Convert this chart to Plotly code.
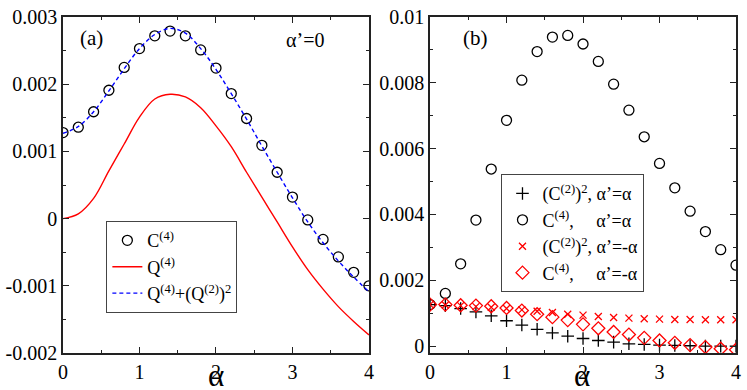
import plotly.graph_objects as go
from plotly.subplots import make_subplots

# ─── Data ─────────────────────────────────────────────────────────────────────
alpha = [0.0, 0.2, 0.4, 0.6, 0.8, 1.0, 1.2, 1.4, 1.6, 1.8, 2.0,
         2.2, 2.4, 2.6, 2.8, 3.0, 3.2, 3.4, 3.6, 3.8, 4.0]

# panel (a), alpha' = 0
c4_a = [0.00128, 0.00136, 0.00159, 0.00191, 0.00225, 0.00253, 0.00272,
        0.00279, 0.00272, 0.00251, 0.00224, 0.00186, 0.00149, 0.00109,
        0.00069, 0.00032, -0.00002, -0.00031, -0.00057, -0.00080, -0.00100]
q4_a = [0.0, 0.00007, 0.00030, 0.00071, 0.00111, 0.00151, 0.00178,
        0.00185, 0.00181, 0.00165, 0.00138, 0.00107, 0.00069, 0.00032,
        -0.00005, -0.00042, -0.00076, -0.00105, -0.00131, -0.00153, -0.00173]
q4q2_a = [0.00127, 0.00137, 0.00159, 0.00190, 0.00223, 0.00253, 0.00274,
          0.00283, 0.00276, 0.00253, 0.00222, 0.00186, 0.00148, 0.00108,
          0.00069, 0.00031, -0.00005, -0.00036, -0.00063, -0.00087, -0.00109]

# panel (b)
c2sq_p = [0.00126, 0.00123, 0.00114, 0.00104, 0.00092, 0.00077, 0.00064,
          0.00051, 0.00040, 0.00030, 0.00023, 0.00017, 0.00012, 0.00007,
          0.00005, 0.00003, 0.00002, 0.00001, 0.0, 0.0, 0.0]
c4_p = [0.00126, 0.00160, 0.00250, 0.00383, 0.00538, 0.00686, 0.00808,
        0.00895, 0.00939, 0.00944, 0.00918, 0.00865, 0.00796, 0.00717,
        0.00636, 0.00555, 0.00481, 0.00410, 0.00348, 0.00293, 0.00246]
c2sq_m = [0.00126, 0.00125, 0.00123, 0.00120, 0.00118, 0.00114, 0.00110,
          0.00106, 0.00102, 0.00097, 0.00094, 0.00090, 0.00087, 0.00085,
          0.00083, 0.00082, 0.00081, 0.00081, 0.00080, 0.00080, 0.00080]
c4_m = [0.00126, 0.00126, 0.00124, 0.00123, 0.00121, 0.00116, 0.00108,
        0.00097, 0.00088, 0.00079, 0.00066, 0.00054, 0.00043, 0.00035,
        0.00025, 0.00017, 0.00010, 0.00003, -0.00003, -0.00008, -0.00011]

ya_ticks = [-0.002, -0.001, 0, 0.001, 0.002, 0.003]
ya_text = ["-0.002", "-0.001", "0", "0.001", "0.002", "0.003"]
yb_ticks = [0, 0.002, 0.004, 0.006, 0.008, 0.01]
yb_text = ["0", "0.002", "0.004", "0.006", "0.008", "0.01"]

FONT = "Liberation Serif"
AX = "#222222"
NB = "\u00a0"

fig = make_subplots(rows=1, cols=2, horizontal_spacing=62 / 683)

# ─── Panel (a) ────────────────────────────────────────────────────────────────
fig.add_trace(go.Scatter(
    x=alpha, y=c4_a, mode="markers", name="C<sup>(4)</sup>",
    marker=dict(symbol="circle-open", size=10, color="black",
                line=dict(color="black", width=1.3)),
    legend="legend"), row=1, col=1)
fig.add_trace(go.Scatter(
    x=alpha, y=q4_a, mode="lines", name="Q<sup>(4)</sup>",
    line=dict(color="#ff0000", width=1.4, shape="spline"),
    legend="legend"), row=1, col=1)
fig.add_trace(go.Scatter(
    x=alpha, y=q4q2_a, mode="lines", name="Q<sup>(4)</sup>+(Q<sup>(2)</sup>)<sup>2</sup>",
    line=dict(color="#0000ff", width=1.4, dash="4px,3px", shape="spline"),
    legend="legend"), row=1, col=1)

# ─── Panel (b) ────────────────────────────────────────────────────────────────
fig.add_trace(go.Scatter(
    x=alpha, y=c2sq_p, mode="markers",
    name="(C<sup>(2)</sup>)<sup>2</sup>, α’=α",
    marker=dict(symbol="cross-thin", size=9, color="black",
                line=dict(color="black", width=1.3)),
    legend="legend2"), row=1, col=2)
fig.add_trace(go.Scatter(
    x=alpha, y=c4_p, mode="markers",
    name="C<sup>(4)</sup>," + NB * 5 + "α’=α",
    marker=dict(symbol="circle-open", size=10, color="black",
                line=dict(color="black", width=1.3)),
    legend="legend2"), row=1, col=2)
fig.add_trace(go.Scatter(
    x=alpha, y=c2sq_m, mode="markers",
    name="(C<sup>(2)</sup>)<sup>2</sup>, α’=-α",
    marker=dict(symbol="x-thin", size=7, color="#ff0000",
                line=dict(color="#ff0000", width=1.3)),
    legend="legend2"), row=1, col=2)
fig.add_trace(go.Scatter(
    x=alpha, y=c4_m, mode="markers",
    name="C<sup>(4)</sup>," + NB * 5 + "α’=-α",
    marker=dict(symbol="diamond-open", size=10, color="#ff0000",
                line=dict(color="#ff0000", width=1.3)),
    legend="legend2"), row=1, col=2)

# ─── Axes ─────────────────────────────────────────────────────────────────────
axis_common = dict(
    showline=True, linecolor=AX, linewidth=1.5, mirror="ticks",
    ticks="inside", ticklen=6, tickwidth=1, tickcolor=AX,
    showgrid=False, zeroline=False, ticklabeloverflow="allow",
    tickfont=dict(family=FONT, size=20, color="black"),
)
for col in (1, 2):
    fig.update_xaxes(
        range=[0, 4], tickvals=[0, 1, 2, 3, 4], ticktext=["0", "1", "2", "3", "4"],
        minor=dict(ticks="inside", ticklen=3, dtick=0.5, tickcolor=AX, showgrid=False),
        row=1, col=col, **axis_common)

fig.update_yaxes(
    range=[-0.002, 0.0030001], tickvals=ya_ticks, ticktext=ya_text,
    minor=dict(ticks="inside", ticklen=3, dtick=0.0005, tick0=0, tickcolor=AX, showgrid=False),
    row=1, col=1, **axis_common)
fig.update_yaxes(
    range=[-0.00021, 0.0100002], tickvals=yb_ticks, ticktext=yb_text,
    minor=dict(ticks="inside", ticklen=3, dtick=0.001, tick0=0, tickcolor=AX, showgrid=False),
    row=1, col=2, **axis_common)

# ─── Labels ───────────────────────────────────────────────────────────────────
def label(text, x, y, size, xref="paper"):
    fig.add_annotation(text=text, x=x, y=y, xref=xref, yref="paper",
                       showarrow=False, xanchor="center", yanchor="middle",
                       font=dict(family=FONT, size=size, color="black"))

label("(a)", (87 - 58) / 683, (353 - 31) / 344, 21)
label("α’=0", (304 - 58) / 683, (353 - 33) / 344, 20)
label("(b)", (477 - 58) / 683, (353 - 31) / 344, 21)
label("α", (213 - 58) / 683, (353 - 376) / 344, 31)
label("α", (585 - 58) / 683, (353 - 376) / 344, 31)

legend_box = dict(
    bgcolor="white", bordercolor="#444444", borderwidth=1,
    font=dict(family=FONT, size=18, color="black"),
    xanchor="left", yanchor="top", tracegroupgap=0,
)
fig.update_layout(
    legend=dict(x=(102 - 58) / 683, y=(353 - 218) / 344, **legend_box),
    legend2=dict(x=(503 - 58) / 683, y=(353 - 170) / 344, **legend_box),
    width=747, height=390,
    margin=dict(l=58, r=6, t=9, b=37),
    plot_bgcolor="white", paper_bgcolor="white",
    font=dict(family=FONT, size=18, color="black"),
)

fig.write_html("out.html", config={"displayModeBar": False},
               post_script="document.body.style.margin='0';")
